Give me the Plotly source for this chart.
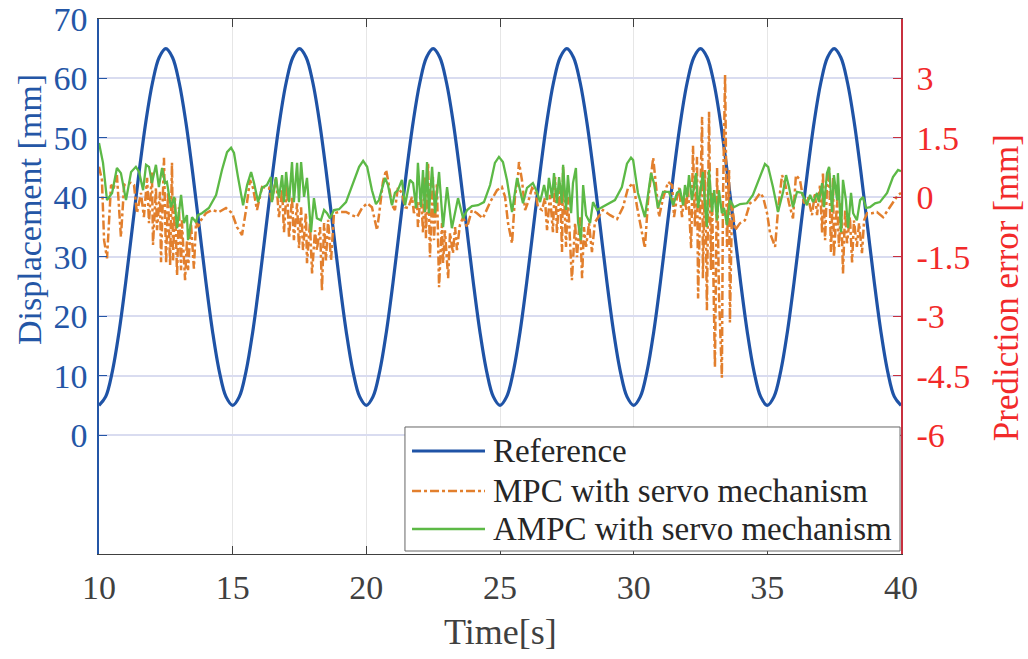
import plotly.graph_objects as go

# ---------------- data ----------------
ref_cycle = [5.00, 6.47, 10.73, 17.36, 25.73, 35.00, 44.27, 52.64, 59.27, 63.53,
             65.00, 63.53, 59.27, 52.64, 44.27, 35.00, 25.73, 17.36, 10.73, 6.47]
ref_vals = ref_cycle * 6 + [5.00]
ref_time = [10 + 0.25 * i for i in range(len(ref_vals))]

# AMPC with servo mechanism - prediction error (mm)
ampc_time = [10.00,10.15,10.30,10.49,10.67,10.82,11.01,11.20,11.38,11.50,11.65,11.76,11.87,11.98,12.13,12.24,
             12.36,12.47,12.54,12.69,12.81,12.92,13.07,13.18,13.29,13.33,13.48,13.63,13.70,13.85,14.11,14.38,
             14.60,14.79,14.94,15.05,15.20,15.39,15.54,15.69,15.80,15.95,16.10,16.28,16.43,16.47,16.62,16.73,
             16.85,16.92,17.00,17.11,17.22,17.29,17.41,17.48,17.56,17.67,17.78,17.93,18.04,18.15,18.30,18.42,
             18.53,18.64,18.79,18.98,19.24,19.46,19.73,19.88,20.03,20.21,20.36,20.47,20.70,20.81,20.96,21.07,
             21.18,21.33,21.45,21.63,21.75,21.86,21.93,22.04,22.12,22.19,22.27,22.34,22.46,22.57,22.72,22.87,
             23.02,23.20,23.43,23.62,23.77,23.95,24.18,24.40,24.63,24.81,24.96,25.11,25.26,25.45,25.64,25.75,
             25.86,26.01,26.23,26.38,26.50,26.65,26.76,26.83,26.95,27.02,27.13,27.21,27.32,27.36,27.47,27.54,
             27.66,27.73,27.84,27.92,28.03,28.11,28.22,28.37,28.48,28.63,28.82,29.04,29.30,29.56,29.75,29.90,
             29.98,30.16,30.42,30.65,30.76,30.91,31.10,31.32,31.48,31.62,31.74,31.85,31.92,32.00,32.07,32.18,
             32.26,32.33,32.41,32.52,32.59,32.67,32.74,32.82,32.93,33.01,33.12,33.19,33.30,33.38,33.49,33.60,
             33.75,33.98,34.24,34.46,34.73,34.91,35.03,35.21,35.40,35.59,35.70,35.81,35.96,36.11,36.30,36.48,
             36.60,36.71,36.86,36.93,37.05,37.12,37.23,37.31,37.42,37.49,37.61,37.64,37.76,37.83,37.94,38.02,
             38.13,38.21,38.35,38.47,38.58,38.69,38.84,39.03,39.21,39.48,39.70,39.89,40.00]
ampc_err = [1.37,0.87,-0.07,0.11,0.74,0.61,-0.07,0.64,0.77,0.64,0.18,0.82,0.77,0.36,0.82,0.26,
            0.74,0.36,0.39,-0.25,0.01,-0.78,0.06,-0.65,-0.45,-1.08,-0.50,-0.63,-0.45,-0.40,-0.27,0.06,
            0.69,1.14,1.25,1.12,0.51,-0.20,0.31,0.64,0.36,-0.12,0.24,0.31,0.51,-0.12,0.51,-0.02,
            0.56,-0.12,0.64,-0.12,0.89,-0.12,0.87,-0.12,0.89,0.01,0.49,-0.88,-0.02,-0.53,-0.58,-0.32,
            -0.40,-0.53,-0.32,-0.30,-0.12,0.26,0.77,0.92,0.77,0.18,-0.17,-0.07,0.49,0.31,-0.20,0.11,
            0.18,0.44,-0.20,0.44,0.36,-0.27,0.87,-0.25,0.69,-0.37,0.89,-0.40,0.77,-0.40,0.64,-0.75,
            0.26,-0.78,-0.02,-0.53,-0.32,-0.22,-0.20,-0.12,0.31,0.87,1.02,0.89,0.44,-0.37,0.49,0.18,
            -0.15,0.24,0.36,0.14,-0.12,0.31,-0.07,0.49,-0.02,0.61,-0.15,0.51,-0.15,0.82,-0.32,0.56,
            -0.40,0.36,0.74,-0.63,-1.08,0.31,-0.45,-0.65,-0.12,-0.32,-0.25,-0.17,-0.07,0.26,0.85,1.00,
            0.94,0.11,-0.50,0.61,0.36,-0.27,0.14,0.14,-0.20,0.11,0.18,-0.20,0.31,0.01,0.56,-0.07,
            0.31,0.61,-0.27,0.26,0.64,-0.20,-0.75,0.69,-0.37,0.18,-0.58,0.18,-0.40,-0.27,-0.70,-0.07,
            -0.25,-0.17,-0.15,0.06,0.56,0.84,0.77,0.26,-0.37,0.14,0.56,0.26,-0.25,0.14,0.11,-0.20,
            0.06,-0.12,0.11,-0.12,0.36,-0.25,0.61,0.77,-0.37,0.56,-0.07,0.61,-0.88,0.44,-0.07,-0.78,
            0.11,-0.40,-0.58,-0.07,0.01,-0.27,-0.25,-0.15,-0.12,0.11,0.51,0.69,0.66]

# MPC with servo mechanism - prediction error (mm)
mpc_time = [10.00,10.11,10.19,10.30,10.45,10.56,10.67,10.82,10.94,11.05,11.20,11.31,11.42,11.57,11.68,11.80,
            11.87,11.98,12.02,12.13,12.17,12.28,12.32,12.43,12.51,12.58,12.66,12.73,12.77,12.84,12.92,12.99,
            13.07,13.10,13.22,13.29,13.33,13.44,13.55,13.63,13.70,13.82,14.00,14.23,14.49,14.75,14.98,15.16,
            15.35,15.50,15.65,15.76,15.91,16.10,16.25,16.36,16.47,16.62,16.73,16.85,16.92,17.03,17.11,17.22,
            17.29,17.41,17.48,17.56,17.63,17.74,17.78,17.89,17.97,18.08,18.15,18.27,18.34,18.42,18.49,18.57,
            18.68,18.79,18.98,19.24,19.46,19.65,19.84,20.03,20.21,20.40,20.51,20.62,20.74,20.81,20.96,21.07,
            21.18,21.33,21.45,21.56,21.71,21.78,21.90,21.93,22.04,22.12,22.19,22.23,22.31,22.38,22.49,22.53,
            22.64,22.72,22.83,22.87,22.94,23.06,23.13,23.24,23.32,23.39,23.50,23.62,23.77,23.95,24.14,24.36,
            24.63,24.89,25.07,25.19,25.30,25.45,25.56,25.67,25.71,25.82,25.94,26.05,26.20,26.31,26.42,26.57,
            26.68,26.76,26.87,26.98,27.06,27.13,27.24,27.32,27.36,27.47,27.54,27.69,27.81,27.88,27.99,28.07,
            28.14,28.22,28.33,28.44,28.55,28.67,28.85,29.12,29.38,29.60,29.79,29.90,29.98,30.13,30.31,30.42,
            30.54,30.65,30.73,30.84,30.95,31.10,31.29,31.44,31.51,31.62,31.70,31.81,31.89,31.96,32.03,32.15,
            32.22,32.29,32.37,32.41,32.52,32.56,32.59,32.67,32.74,32.82,32.89,32.93,33.04,33.12,33.19,33.30,
            33.34,33.42,33.49,33.57,33.60,33.68,33.79,33.98,34.16,34.35,34.54,34.73,34.84,34.99,35.10,35.29,
            35.40,35.55,35.66,35.81,35.96,36.07,36.22,36.37,36.52,36.67,36.78,36.86,36.97,37.05,37.08,37.16,
            37.23,37.31,37.38,37.46,37.49,37.61,37.68,37.76,37.83,37.91,37.98,38.09,38.17,38.24,38.35,38.43,
            38.54,38.62,38.73,38.92,39.10,39.33,39.51,39.70,39.89,40.00]
mpc_err = [0.77,0.44,-1.08,-1.54,0.31,0.26,0.56,-1.00,0.31,0.36,0.36,0.31,-0.40,0.11,-0.50,0.49,
           -0.65,0.64,-1.20,0.24,-0.83,0.14,-1.64,1.00,-1.66,0.14,-1.71,0.87,-1.59,0.01,-1.97,-0.25,
           -1.84,-0.58,-2.09,-1.08,-1.84,-0.65,-1.80,-0.63,-0.75,-0.57,-0.40,-0.32,-0.37,-0.27,-0.40,-0.75,
           -0.95,-0.32,0.44,0.24,-0.32,0.26,0.24,0.24,-0.12,0.51,-0.50,0.18,-0.88,0.31,-1.03,0.01,
           -1.08,-0.15,-1.28,-0.25,-1.33,-0.40,-1.66,-0.65,-1.92,-0.83,-1.33,-0.75,-2.35,-0.65,-1.59,-0.57,
           -1.59,-0.40,-0.37,-0.37,-0.45,-0.50,-0.27,-0.15,-0.25,-0.83,-0.25,0.39,0.69,0.44,-0.20,-0.32,
           0.24,0.11,-0.25,-0.27,0.01,-0.40,-0.12,-0.75,0.18,-0.90,0.51,-1.03,0.87,-1.51,0.51,-1.08,
           0.36,-2.27,-0.65,-1.66,-0.83,-2.04,-0.90,-1.41,-0.75,-1.33,-0.70,-0.50,-0.75,-0.32,-0.40,-0.53,
           -0.12,0.18,0.26,0.01,-0.65,-1.16,0.01,0.51,0.89,0.44,-0.32,-0.12,0.24,0.18,-0.25,-0.32,
           -0.02,-0.83,0.06,-0.88,0.51,-0.90,0.36,-1.38,0.77,-1.25,0.01,-2.09,-0.65,-1.51,-0.50,-2.04,
           -0.75,-1.25,-0.65,-1.38,-0.63,-0.50,-0.32,-0.45,-0.55,-0.25,0.24,0.31,0.36,-0.25,-0.90,-1.28,
           -0.07,0.61,1.00,0.26,-0.50,-0.02,0.39,0.31,-0.50,0.01,0.24,-0.50,0.11,-0.32,0.26,-1.28,
           1.30,-0.75,1.02,-2.55,0.77,2.03,-2.04,0.69,-2.85,2.16,-1.84,0.11,-4.29,0.74,-2.42,-4.55,
           -0.07,3.09,-1.25,0.69,-3.16,-0.15,-0.83,-0.65,-0.58,-0.15,-0.07,0.11,0.01,-0.40,-0.90,-1.25,
           -0.32,0.56,0.36,-0.15,-0.53,0.56,0.44,-0.15,0.01,-0.45,0.11,-0.45,0.31,-0.90,0.64,-1.08,
           0.26,0.74,-1.38,0.49,-1.51,-0.07,-1.25,-0.15,-1.92,-0.32,-1.16,-0.50,-1.64,-0.58,-1.25,-0.65,
           -1.41,-0.58,-0.40,-0.40,-0.37,-0.50,-0.32,-0.12,0.06,0.11]

x_ticks = [10, 15, 20, 25, 30, 35, 40]
left_ticks = [0, 10, 20, 30, 40, 50, 60, 70]
right_ticks = [-6, -4.5, -3, -1.5, 0, 1.5, 3]
right_tick_text = ["-6", "-4.5", "-3", "-1.5", "0", "1.5", "3"]
series_names = ["Reference", "MPC with servo mechanism", "AMPC with servo mechanism"]

# ---------------- style ----------------
FONT = "Times New Roman"
BLUE = "#2456a6"
RED = "#f22a2a"
GREY = "#404040"
C_REF, C_MPC, C_AMPC = "#1f53a6", "#e27f2d", "#5cb946"
W_REF, W_MPC, W_AMPC = 3.2, 2.5, 2.3
D_REF, D_MPC, D_AMPC = "solid", "dashdot", "solid"

fig = go.Figure()
fig.add_trace(go.Scatter(x=ref_time, y=ref_vals, mode="lines", name=series_names[0],
                         line=dict(color=C_REF, width=W_REF, shape="spline"), yaxis="y"))
fig.add_trace(go.Scatter(x=mpc_time, y=mpc_err, mode="lines", name=series_names[1],
                         line=dict(color=C_MPC, width=W_MPC, dash=D_MPC), yaxis="y2"))
fig.add_trace(go.Scatter(x=ampc_time, y=ampc_err, mode="lines", name=series_names[2],
                         line=dict(color=C_AMPC, width=W_AMPC), yaxis="y2"))

# ---- legend box (drawn in paper coordinates, lower-right inside the axes) ----
shapes = [dict(type="rect", xref="paper", yref="paper", x0=0.3815, x1=0.9988,
               y0=0.0056, y1=0.2374, line=dict(color="#666666", width=1),
               fillcolor="white", layer="above")]
annotations = []
row_y = [0.1925, 0.1178, 0.0467]
for name, yy, col, w, d in zip(series_names, row_y, [C_REF, C_MPC, C_AMPC],
                               [W_REF, W_MPC, W_AMPC], [D_REF, D_MPC, D_AMPC]):
    shapes.append(dict(type="line", xref="paper", yref="paper", x0=0.3903, x1=0.4813,
                       y0=yy, y1=yy, line=dict(color=col, width=w, dash=d), layer="above"))
    annotations.append(dict(text=name, xref="paper", yref="paper", x=0.489, y=yy,
                            xanchor="left", yanchor="middle", showarrow=False,
                            font=dict(family=FONT, size=33, color="#262626")))

annotations += [
    dict(text="Displacement [mm]", xref="paper", yref="paper",
         x=-0.086, y=0.643, xanchor="center", yanchor="middle", textangle=-90,
         showarrow=False, font=dict(family=FONT, size=34, color=BLUE)),
    dict(text="Prediction error [mm]", xref="paper", yref="paper",
         x=1.131, y=0.497, xanchor="center", yanchor="middle", textangle=-90,
         showarrow=False, font=dict(family=FONT, size=35, color=RED)),
    dict(text="Time[s]", xref="paper", yref="paper",
         x=0.5, y=-0.146, xanchor="center", yanchor="middle",
         showarrow=False, font=dict(family=FONT, size=36, color=GREY)),
]

fig.update_layout(
    template="none",
    width=1028, height=659,
    margin=dict(l=99, r=127, t=19, b=105, autoexpand=False),
    paper_bgcolor="white", plot_bgcolor="white",
    font=dict(family=FONT, size=34, color=GREY),
    showlegend=False,
    xaxis=dict(range=[10, 40], tickvals=x_ticks, ticks="inside", ticklen=8,
               tickcolor=GREY, showline=True, linecolor=GREY, linewidth=1.2,
               mirror="ticks", showgrid=True, gridcolor="#e6e6e6", gridwidth=1,
               zeroline=False, automargin=False,
               tickfont=dict(family=FONT, size=34, color=GREY), ticklabelstandoff=3),
    yaxis=dict(range=[-20, 70], tickvals=left_ticks, ticks="inside", ticklen=8,
               tickcolor=BLUE, showline=True, linecolor=BLUE, linewidth=1.5,
               showgrid=True, gridcolor="#d9dcf0", gridwidth=1.5, zeroline=False,
               automargin=False,
               tickfont=dict(family=FONT, size=34, color=BLUE), ticklabelstandoff=3),
    yaxis2=dict(range=[-9, 4.5], tickvals=right_ticks, ticktext=right_tick_text,
                overlaying="y", side="right", ticks="inside", ticklen=8,
                tickcolor="#c8303f", showline=True, linecolor="#c8303f", linewidth=1.5,
                showgrid=False, zeroline=False, automargin=False,
                tickfont=dict(family=FONT, size=34, color=RED), ticklabelstandoff=7),
    shapes=shapes,
    annotations=annotations,
)

fig.write_html("out.html")
